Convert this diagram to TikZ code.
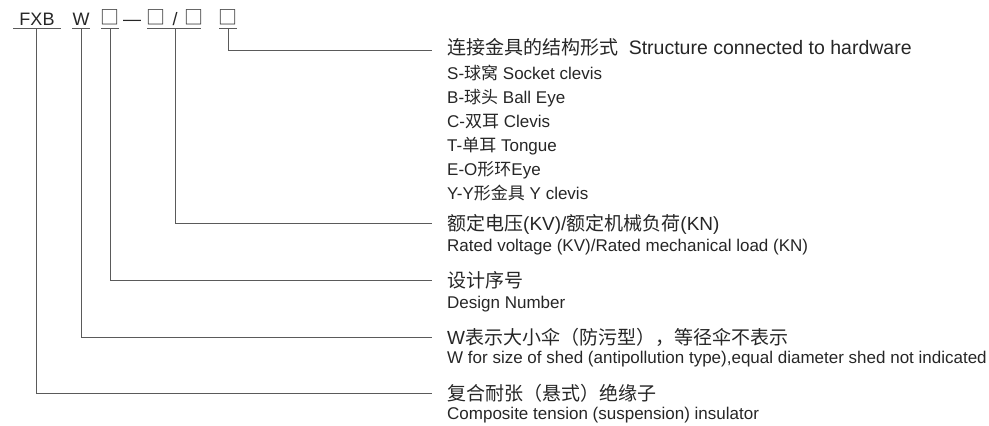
\documentclass[tikz,border=0pt]{standalone}
\usepackage{fontspec}
\setmainfont{Liberation Sans}
\newfontfamily\cjk{Noto Sans CJK SC}
\definecolor{txt}{HTML}{262626}
\definecolor{ln}{HTML}{5A5A5A}
\newcommand{\bigf}{\fontsize{19}{22}\selectfont}
\newcommand{\midf}{\fontsize{17}{20}\selectfont}
\newcommand{\codef}{\fontsize{18}{21}\selectfont}
\newcommand{\ph}{{\cjk\fontsize{19}{21}\selectfont □}}
\begin{document}
\begin{tikzpicture}[x=1pt,y=-1pt,
  lbl/.style={anchor=base west,inner sep=0pt,text=txt},
  code/.style={anchor=base,inner sep=0pt,text=txt,font=\codef},
  conn/.style={draw=ln,line width=1pt},
  uline/.style={draw=ln,line width=1pt}]
\useasboundingbox (0,0) rectangle (989,426);
% code row
\node[code] (cFXB) at (37,25) {FXB};
\node[code] (cW) at (81,25) {W};
\node[code] (cB1) at (110,24) {\ph};
\node[code] (cDash) at (132,25) {—};
\node[code] (cB2) at (156,24) {\ph};
\node[code] (cSl) at (175,25) {/};
\node[code] (cB3) at (194,24) {\ph};
\node[code] (cB4) at (228,24) {\ph};
% underlines
\draw[uline] (13,28) -- (61,28);
\draw[uline] (72,28) -- (90,28);
\draw[uline] (101,28) -- (119,28);
\draw[uline] (147,28) -- (201,28);
\draw[uline] (219,28) -- (237,28);
\coordinate (u1) at (36,28);
\coordinate (u2) at (81,28);
\coordinate (u3) at (110,28);
\coordinate (u4) at (175,28);
\coordinate (u5) at (228,28);
\coordinate (e5) at (432,50);
\coordinate (e4) at (432,223);
\coordinate (e3) at (432,280);
\coordinate (e2) at (432,337);
\coordinate (e1) at (432,393);
\draw[conn] (u5) |- (e5);
\draw[conn] (u4) |- (e4);
\draw[conn] (u3) |- (e3);
\draw[conn] (u2) |- (e2);
\draw[conn] (u1) |- (e1);
% labels
\node[lbl,font=\bigf] (t5) at (447,54) {{\cjk 连接金具的结构形式}\ \ {\fontsize{19.5}{22}\selectfont Structure connected to hardware}};
\node[lbl,font=\midf] (s1) at (447,79) {S-{\cjk 球窝} Socket clevis};
\node[lbl,font=\midf] (s2) at (447,103) {B-{\cjk 球头} Ball Eye};
\node[lbl,font=\midf] (s3) at (447,127) {C-{\cjk 双耳} Clevis};
\node[lbl,font=\midf] (s4) at (447,151) {T-{\cjk 单耳} Tongue};
\node[lbl,font=\midf] (s5) at (447,175) {E-O{\cjk 形环}Eye};
\node[lbl,font=\midf] (s6) at (447,199) {Y-Y{\cjk 形金具} Y clevis};
\node[lbl,font=\bigf] (t4) at (447,230) {{\cjk 额定电压}(KV)/{\cjk 额定机械负荷}(KN)};
\node[lbl,font=\midf] (t4e) at (447,251) {Rated voltage (KV)/Rated mechanical load (KN)};
\node[lbl,font=\bigf] (t3) at (447,287) {{\cjk 设计序号}};
\node[lbl,font=\midf] (t3e) at (447,308) {Design Number};
\node[lbl,font=\bigf] (t2) at (447,344) {W{\cjk 表示大小伞（防污型），等径伞不表示}};
\node[lbl,font=\midf] (t2e) at (447,363) {W for size of shed (antipollution type),equal diameter shed not indicated};
\node[lbl,font=\bigf] (t1) at (447,400) {{\cjk 复合耐张（悬式）绝缘子}};
\node[lbl,font=\midf] (t1e) at (447,419) {Composite tension (suspension) insulator};
\end{tikzpicture}
\end{document}
